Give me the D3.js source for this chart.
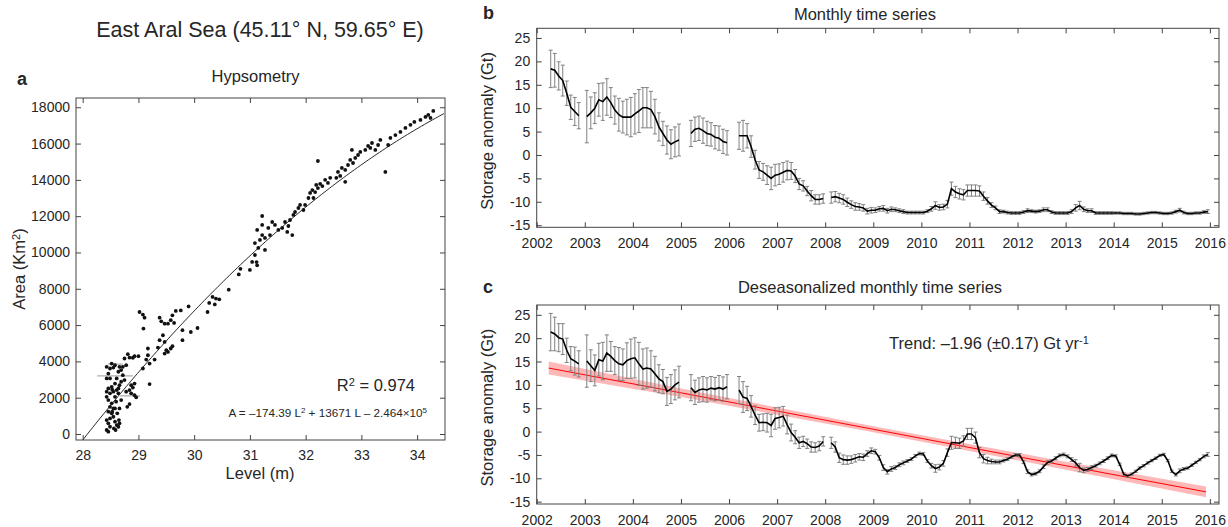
<!DOCTYPE html>
<html>
<head>
<meta charset="utf-8">
<script src="https://cdn.jsdelivr.net/npm/d3@7"></script>
<style>
  body { margin: 0; background: #fff; }
  text { font-family: "Liberation Sans", Arial, Helvetica, sans-serif; fill: #262626; }
</style>
</head>
<body>
<svg id="fig" width="1228" height="527"></svg>
<script>
'use strict';
// ---- panel a : hypsometry (level in m, area in km2)
const hypsoLevel = [
  31.13,31.12,30.80,30.83,30.62,30.33,30.39,30.27,30.45,30.24,
  30.37,30.06,29.94,29.79,29.79,29.90,29.76,29.67,29.61,29.58,
  29.53,29.64,29.47,29.38,29.41,29.44,29.38,29.47,29.50,29.47,
  29.53,29.35,29.58,29.61,29.29,29.17,29.14,29.17,29.20,29.08,
  29.02,29.08,29.11,29.09,29.20,29.00,28.93,28.90,28.81,28.84,
  28.75,28.78,28.72,28.93,28.87,28.90,28.84,28.87,28.93,28.96,
  28.78,28.80,28.84,28.69,28.66,28.60,28.58,28.64,28.55,28.52,
  28.58,28.61,28.64,28.66,28.58,28.55,28.49,28.46,28.43,28.49,
  28.52,28.43,28.69,28.72,28.75,28.69,28.66,28.64,28.61,28.53,
  28.46,28.43,28.49,28.43,28.46,28.52,28.49,28.55,28.46,28.52,
  28.55,28.49,28.43,28.46,28.49,28.43,28.46,28.58,28.61,28.64,
  28.66,28.59,28.56,28.65,28.53,28.58,28.62,
  31.00,31.04,31.09,31.15,31.09,31.18,31.22,31.27,31.13,31.22,
  31.33,31.36,31.27,31.40,31.45,31.51,31.22,31.58,31.63,31.69,
  31.72,31.78,31.81,31.87,31.90,31.96,31.99,31.76,31.67,32.05,
  32.08,32.12,32.17,32.22,32.26,32.30,32.35,32.40,32.44,32.22,
  32.14,32.19,32.55,32.58,32.62,32.65,32.71,32.76,32.80,32.85,
  32.89,32.94,32.98,32.71,32.83,33.07,33.12,33.16,33.19,33.25,
  33.30,33.34,33.43,33.48,33.52,33.61,33.70,33.79,33.88,33.95,
  34.06,34.15,34.20,34.29,34.24
];
const hypsoArea = [
  9290,9470,8790,9100,7950,7550,7460,7220,7420,6720,
  7140,5840,5620,5720,5170,7030,6810,6780,6540,6270,
  6080,6120,6080,6410,6210,5440,5170,5070,4620,4430,
  4520,4760,4710,4840,4100,4710,4100,4340,3880,3610,
  6720,6580,6410,5810,2750,4290,4290,4200,4400,4210,
  4160,3790,3700,2780,2690,2560,2420,2240,2140,2020,
  2330,1500,1650,1870,1410,1780,2050,2240,2330,2600,
  2780,3060,3430,3700,3790,3660,3610,3330,3060,3060,
  3880,3700,3520,3240,2970,2880,2690,2510,2420,2450,
  2510,2330,2240,2050,1870,1690,1500,1410,1230,1140,
  950,860,770,590,400,220,130,680,490,400,
  590,220,310,770,1230,1410,1140,
  9040,9480,9860,10250,10520,10690,10960,10800,11240,11520,
  11350,10960,10140,11680,11520,11240,12010,11350,11680,11460,
  11790,12070,12230,12450,12620,12340,12620,10960,11130,13000,
  13280,13440,13330,13550,13780,13660,14000,13830,14110,15040,
  13000,13720,14110,14440,14220,14660,14550,14820,15100,14930,
  15210,15370,15540,13890,15650,15650,15870,15760,16030,15650,
  15920,16200,14440,15920,16310,16470,16640,16860,17030,17190,
  17300,17470,17580,17800,17410
];
// horizontal error bars: [level min, level max, area]
const levelErrBars = [[28.26, 28.90, 3200], [28.45, 28.72, 3850], [28.67, 29.03, 2100]];
// fit A = c0 L^2 + c1 L + c2
const fitCoef = [-174.39, 13671, -2.464e5];
const levelTicks = [28, 29, 30, 31, 32, 33, 34];
const areaTicks = [0, 2000, 4000, 6000, 8000, 10000, 12000, 14000, 16000, 18000];

// ---- panels b, c : monthly storage anomaly (Gt), segments between data gaps
const segStart = [[2002, 4], [2003, 1], [2005, 3], [2006, 3], [2008, 2]];
const monthlyB = [
  [18.4, 18.1, 16.9, 15.9, 13.2, 10.2, 9.3, 8.4],
  [8.2, 9.0, 10.0, 11.8, 11.4, 12.4, 11.2, 9.6, 8.6, 8.1, 8.1, 8.1,
   8.8, 9.4, 10.1, 10.1, 9.7, 8.2, 6.0, 4.6, 3.2, 2.3, 2.8, 3.2],
  [4.6, 5.5, 5.7, 5.2, 4.6, 4.4, 3.8, 3.6, 2.9, 2.6],
  [4.1, 4.1, 4.1, 1.8, -1.0, -3.2, -3.6, -4.3, -5.0, -4.3,
   -4.1, -3.7, -3.3, -3.4, -4.5, -6.2, -6.6, -7.7, -8.7, -9.5, -9.5, -9.3],
  [-9.1, -8.9, -9.2, -9.5, -10.1, -10.6, -11.0, -11.1, -11.3, -12.0, -11.8,
   -11.8, -11.5, -11.4, -11.9, -11.6, -11.7, -11.9, -12.1, -12.3, -12.3, -12.3, -12.3,
   -12.3, -12.0, -11.5, -10.8, -11.2, -11.1, -10.5, -7.2, -7.9, -8.3, -8.5, -7.6,
   -7.6, -7.6, -7.7, -8.8, -9.8, -10.7, -11.3, -12.1, -12.1, -12.3, -12.4, -12.4,
   -12.4, -12.2, -11.9, -12.0, -12.1, -12.0, -11.7, -11.7, -12.2, -12.4, -12.4, -12.4,
   -12.4, -12.1, -11.3, -10.8, -11.6, -11.9, -11.9, -12.4, -12.4, -12.4, -12.4, -12.4,
   -12.4, -12.4, -12.5, -12.5, -12.5, -12.6, -12.6, -12.5, -12.4, -12.3, -12.3, -12.4,
   -12.5, -12.5, -12.4, -12.1, -11.8, -12.3, -12.5, -12.5, -12.4, -12.4, -12.2, -12.1]
];
const deseasC = [
  [21.3, 20.9, 20.1, 19.8, 17.4, 15.6, 15.1, 14.5],
  [15.1, 14.1, 13.1, 15.4, 15.1, 16.8, 16.1, 15.2, 14.5, 14.3, 15.2, 15.6,
   15.8, 14.5, 13.4, 13.6, 13.4, 12.4, 11.3, 10.7, 8.6, 9.1, 10.0, 10.6],
  [9.4, 8.4, 8.9, 9.1, 8.9, 9.3, 9.1, 9.4, 9.1, 9.6],
  [8.9, 7.4, 7.1, 5.4, 3.5, 1.9, 2.0, 1.9, 1.3, 2.8,
   3.0, 3.3, 1.5, -0.2, -1.2, -2.4, -2.1, -2.6, -3.3, -3.4, -3.1, -2.1],
  [-2.4, -3.3, -5.6, -6.0, -6.1, -6.0, -5.7, -5.4, -5.5, -4.7, -4.1,
   -4.3, -5.6, -7.7, -8.6, -8.0, -7.7, -7.1, -6.7, -6.3, -5.9, -5.2, -4.7,
   -4.8, -6.3, -7.3, -7.9, -7.6, -6.8, -4.5, -2.4, -2.4, -2.5, -2.0, -0.5,
   -0.5, -1.3, -4.5, -5.8, -6.2, -6.4, -6.5, -6.5, -6.2, -5.9, -5.4, -5.0,
   -5.0, -6.5, -8.6, -9.2, -9.0, -8.5, -7.5, -6.6, -6.3, -5.7, -5.1, -4.9,
   -5.3, -6.0, -6.7, -7.7, -8.3, -8.1, -7.7, -7.3, -6.8, -6.3, -5.7, -5.1,
   -5.2, -7.0, -9.1, -9.5, -9.1, -8.5, -7.8, -7.3, -6.7, -6.2, -5.7, -5.1,
   -4.9, -6.2, -8.5, -9.2, -8.4, -8.0, -7.8, -7.2, -6.6, -6.0, -5.3, -4.9]
];
// half length of the error bars (Gt)
const errTS = [
  [4.0, 3.6, 3.0, 3.3, 2.6, 2.6, 3.0, 2.8],
  [5.6, 3.4, 3.3, 3.5, 4.0, 3.9, 3.2, 3.0, 3.5, 3.4, 3.8, 4.2,
   4.3, 4.6, 4.3, 4.3, 3.9, 3.7, 3.0, 2.6, 3.0, 3.1, 3.2, 3.4],
  [2.8, 2.6, 2.6, 2.7, 2.6, 2.5, 2.5, 2.6, 2.6, 2.6],
  [2.9, 3.3, 2.6, 2.3, 2.0, 1.8, 1.8, 2.0, 2.4, 2.3, 2.2, 2.1, 2.0, 1.8, 1.4,
   1.2, 1.1, 1.0, 1.1, 1.0, 1.0, 1.0],
  [1.2, 1.1, 1.0, 1.0, 0.9, 0.8, 0.8, 0.7, 0.7, 0.6, 0.6,
   0.5, 0.5, 0.6, 0.5, 0.5, 0.4, 0.4, 0.4, 0.3, 0.3, 0.3, 0.3,
   0.3, 0.3, 0.5, 0.8, 0.6, 0.6, 0.8, 1.4, 1.2, 1.1, 1.1, 1.2,
   1.2, 1.2, 1.1, 0.9, 0.7, 0.5, 0.4, 0.4, 0.3, 0.3, 0.3, 0.3,
   0.3, 0.3, 0.4, 0.3, 0.3, 0.3, 0.4, 0.4, 0.3, 0.3, 0.3, 0.3,
   0.3, 0.4, 0.7, 0.9, 0.5, 0.4, 0.4, 0.3, 0.3, 0.3, 0.3, 0.3,
   0.25, 0.25, 0.25, 0.25, 0.25, 0.25, 0.25, 0.25, 0.25, 0.25, 0.25, 0.25,
   0.25, 0.25, 0.25, 0.3, 0.4, 0.3, 0.25, 0.25, 0.25, 0.25, 0.3, 0.4]
];
// linear trend of panel c and its confidence band
const trendX = [2002.25, 2005, 2009, 2013, 2015.92];
const trendY = [13.6, 8.3, 0.5, -7.3, -12.9];
const trendHalf = [1.4, 0.9, 0.65, 0.85, 1.15];
const yearTicks = d3.range(2002, 2017);
const storageTicks = [-15, -10, -5, 0, 5, 10, 15, 20, 25];

// ---- drawing
const svg = d3.select('#fig');
const axisCol = '#444';
const fmt = d => String(d);

const xA = d3.scaleLinear().domain([27.88, 34.5]).range([76, 445]);
const yA = d3.scaleLinear().domain([-330, 18510]).range([440, 98]);
const xT = d3.scaleLinear().domain([2002, 2016.19]).range([536.7, 1219]);
const yB = d3.scaleLinear().domain([-15.45, 27.07]).range([227.3, 28.3]);
const yC = d3.scaleLinear().domain([-15.5, 27.1]).range([504, 305]);

const drawFrame = (x, y, xTicks, yTicks, xPad, yPad) => {
  const [x0, x1] = x.range();
  const [yb, yt] = y.range();
  const g = svg.append('g');
  g.append('g').attr('transform', `translate(0,${yb})`)
    .call(d3.axisBottom(x).tickValues(xTicks).tickSize(-5).tickSizeOuter(0).tickPadding(xPad).tickFormat(fmt));
  g.append('g').attr('transform', `translate(0,${yt})`)
    .call(d3.axisTop(x).tickValues(xTicks).tickSize(-5).tickSizeOuter(0).tickFormat(''));
  g.append('g').attr('transform', `translate(${x0},0)`)
    .call(d3.axisLeft(y).tickValues(yTicks).tickSize(-5).tickSizeOuter(0).tickPadding(yPad).tickFormat(fmt));
  g.append('g').attr('transform', `translate(${x1},0)`)
    .call(d3.axisRight(y).tickValues(yTicks).tickSize(-5).tickSizeOuter(0).tickFormat(''));
  g.selectAll('.domain').remove();
  g.selectAll('.tick line').attr('stroke', axisCol);
  g.selectAll('g').attr('font-size', 14).attr('font-family', null);
  g.selectAll('.tick text').attr('fill', '#262626');
  g.append('rect')
    .attr('x', x0).attr('y', yt).attr('width', x1 - x0).attr('height', yb - yt)
    .attr('fill', 'none').attr('stroke', axisCol).attr('stroke-width', 1);
};

const clip = (id, x, y) => {
  const [x0, x1] = x.range(), [yb, yt] = y.range();
  svg.append('clipPath').attr('id', id).append('rect')
    .attr('x', x0).attr('y', yt).attr('width', x1 - x0).attr('height', yb - yt);
};
clip('clipA', xA, yA);
clip('clipB', xT, yB);
clip('clipC', xT, yC);

// panel a
const gA = svg.append('g').attr('clip-path', 'url(#clipA)');
const fitPts = d3.range(27.88, 34.51, 0.05).map(L => [L, fitCoef[0] * L * L + fitCoef[1] * L + fitCoef[2]]);
gA.append('path')
  .attr('d', d3.line().x(d => xA(d[0])).y(d => yA(d[1]))(fitPts))
  .attr('fill', 'none').attr('stroke', '#111').attr('stroke-width', 0.9);
gA.selectAll('line.herr').data(levelErrBars).join('line')
  .attr('x1', d => xA(d[0])).attr('x2', d => xA(d[1]))
  .attr('y1', d => yA(d[2])).attr('y2', d => yA(d[2]))
  .attr('stroke', '#999').attr('stroke-width', 1);
gA.selectAll('circle').data(hypsoLevel).join('circle')
  .attr('cx', d => xA(d)).attr('cy', (d, i) => yA(hypsoArea[i]))
  .attr('r', 1.9).attr('fill', '#111');
drawFrame(xA, yA, levelTicks, areaTicks, 10, 6);

// panels b and c
const monthTime = (s, i) => s[0] + (s[1] - 1 + i + 0.5) / 12;
const drawSeries = (y, series, clipId) => {
  const g = svg.append('g').attr('clip-path', `url(#${clipId})`);
  series.forEach((vals, k) => {
    const pts = vals.map((v, i) => ({ t: monthTime(segStart[k], i), v: v, e: errTS[k][i] }));
    g.append('path')
      .attr('d', pts.map(p => {
        const x = xT(p.t), ya = y(p.v + p.e), yb = y(p.v - p.e);
        return `M${x},${ya}V${yb}M${x - 2},${ya}h4M${x - 2},${yb}h4`;
      }).join(''))
      .attr('fill', 'none').attr('stroke', '#808080').attr('stroke-width', 1);
    g.append('path')
      .attr('d', d3.line().x(p => xT(p.t)).y(p => y(p.v))(pts))
      .attr('fill', 'none').attr('stroke', '#000').attr('stroke-width', 1.6);
  });
  return g;
};

drawSeries(yB, monthlyB, 'clipB');
drawFrame(xT, yB, yearTicks, storageTicks, 11, 6.5);

const trend = trendX.map((t, i) => ({ t: t, v: trendY[i], h: trendHalf[i] }));
const gC = svg.append('g').attr('clip-path', 'url(#clipC)');
gC.append('path')
  .attr('d', d3.area().x(d => xT(d.t)).y0(d => yC(d.v - d.h)).y1(d => yC(d.v + d.h))(trend))
  .attr('fill', '#ff0000').attr('fill-opacity', 0.28);
gC.append('path')
  .attr('d', d3.line().x(d => xT(d.t)).y(d => yC(d.v))(trend))
  .attr('fill', 'none').attr('stroke', '#ff0000').attr('stroke-width', 1);
drawSeries(yC, deseasC, 'clipC');
drawFrame(xT, yC, yearTicks, storageTicks, 11, 6.5);

// ---- texts
const txt = (x, y, s, size, anchor, weight) => svg.append('text')
  .attr('x', x).attr('y', y).attr('font-size', size)
  .attr('text-anchor', anchor || 'middle').attr('font-weight', weight || 'normal').text(s);

txt(260, 37, 'East Aral Sea (45.11\u00b0 N, 59.65\u00b0 E)', 21.5);
txt(255.5, 82, 'Hypsometry', 16.5);
txt(17, 85, 'a', 18, 'start', 'bold');
txt(483, 19, 'b', 18, 'start', 'bold');
txt(483, 293, 'c', 18, 'start', 'bold');
txt(865, 20, 'Monthly time series', 16.5);
txt(870, 293, 'Deseasonalized monthly time series', 16.5);
txt(260, 479, 'Level (m)', 16.5);

const sup = (t, s, size) => t.append('tspan').attr('dy', -size * 0.42).attr('font-size', size).text(s);
const back = (t, s, size) => t.append('tspan').attr('dy', size * 0.42).text(s);

const areaLab = svg.append('text').attr('transform', 'translate(25,269) rotate(-90)')
  .attr('text-anchor', 'middle').attr('font-size', 16.5).text('Area (Km');
sup(areaLab, '2', 11); back(areaLab, ')', 11);

[131, 407.7].forEach(cy => {
  svg.append('text').attr('transform', `translate(493,${cy}) rotate(-90)`)
    .attr('text-anchor', 'middle').attr('font-size', 16.5).text('Storage anomaly (Gt)');
});

const r2 = svg.append('text').attr('x', 415).attr('y', 390.7).attr('text-anchor', 'end')
  .attr('font-size', 16.5).text('R');
sup(r2, '2', 11); back(r2, ' = 0.974', 11);

const eq = svg.append('text').attr('x', 427).attr('y', 416.7).attr('text-anchor', 'end')
  .attr('font-size', 11.7).text('A = \u2013174.39 L');
sup(eq, '2', 8); back(eq, ' + 13671 L \u2013 2.464\u00d710', 8); sup(eq, '5', 8);

const tr = svg.append('text').attr('x', 889).attr('y', 349).attr('font-size', 16.5)
  .text('Trend: \u20131.96 (\u00b10.17) Gt yr');
sup(tr, '-1', 11);
</script>
</body>
</html>
